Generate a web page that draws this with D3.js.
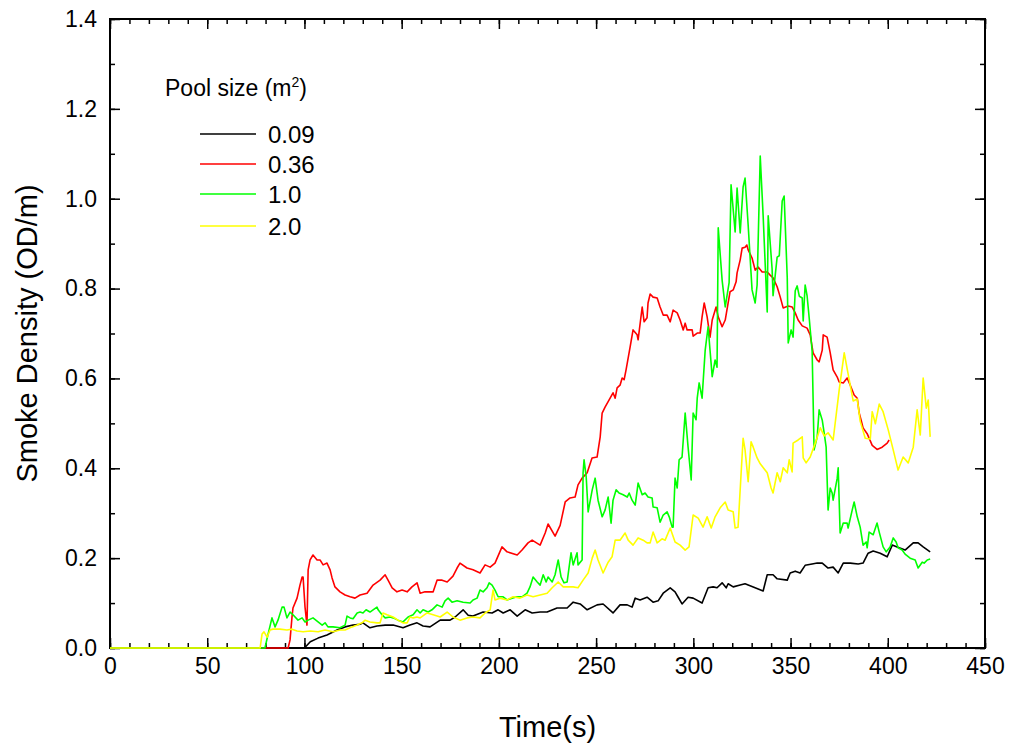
<!DOCTYPE html>
<html>
<head>
<meta charset="utf-8">
<script src="https://cdn.jsdelivr.net/npm/d3@7"></script>
<style>
  body { margin: 0; background: #fff; }
  text { font-family: "Liberation Sans", Arial, sans-serif; fill: #000; }
</style>
</head>
<body>
<script>
const W = 1013, H = 746;
const plotL = 110, plotR = 985, plotT = 19, plotB = 648;

// tick values
const xMajor = [0, 50, 100, 150, 200, 250, 300, 350, 400, 450];
const xMinor = d3.range(0, 451, 10);
const yMajor = [0, 0.2, 0.4, 0.6, 0.8, 1.0, 1.2, 1.4];
const yMinor = d3.range(0, 1.41, 0.1);

const seriesNames = ["0.09", "0.36", "1.0", "2.0"];
const seriesColors = ["#000000", "#ff0000", "#00ff00", "#ffff00"];

// [time s, OD/m]
const pool009 = [[0,0],[100,0],[103,0.014],[107,0.022],[111.6,0.029],[116.8,0.040],[120.9,0.047],[125,0.051],[128.6,0.053],[130.1,0.056],[133.7,0.045],[137.3,0.049],[141.5,0.051],[145.6,0.051],[150.7,0.045],[154.3,0.051],[157.9,0.056],[161,0.049],[164.6,0.047],[169.8,0.062],[174.9,0.062],[177.5,0.069],[181.6,0.085],[184.2,0.073],[186.7,0.071],[191.9,0.080],[196.5,0.078],[199.6,0.085],[202.2,0.078],[205.8,0.085],[209.4,0.071],[213.5,0.085],[217.1,0.078],[221.2,0.080],[224.8,0.080],[229.9,0.089],[235.1,0.089],[238.2,0.102],[241.8,0.098],[245.4,0.085],[250.5,0.096],[253.6,0.098],[258.7,0.078],[262.3,0.096],[266,0.096],[268.5,0.091],[270.1,0.111],[272.6,0.107],[276.2,0.113],[279.3,0.102],[281.9,0.105],[284.5,0.122],[288.1,0.134],[290.6,0.125],[292.2,0.113],[294.2,0.098],[297.3,0.113],[299.9,0.111],[304.5,0.100],[307.6,0.134],[310.2,0.136],[312.2,0.134],[314.8,0.145],[316.9,0.134],[317.9,0.143],[320.5,0.136],[324.1,0.140],[326.6,0.143],[330.8,0.136],[335.9,0.127],[338,0.163],[341,0.163],[343.1,0.154],[348.3,0.151],[349.8,0.167],[352.4,0.171],[354.9,0.167],[357.5,0.184],[361.1,0.187],[363.7,0.189],[366.3,0.189],[369.3,0.178],[371.9,0.180],[374.5,0.167],[377.1,0.189],[380.7,0.189],[384.8,0.187],[387.3,0.189],[389.9,0.211],[392.5,0.216],[396.1,0.211],[399.7,0.203],[402.3,0.229],[404.8,0.225],[408.9,0.218],[413.1,0.234],[415.6,0.234],[418.2,0.225],[421.8,0.214]];

const pool036 = [[0,0],[91.6,0],[92.6,0.018],[93.6,0.069],[94.1,0.089],[96.2,0.111],[97.7,0.140],[98.8,0.158],[99.3,0.158],[100.3,0.091],[101.3,0.051],[101.9,0.174],[102.9,0.196],[104.4,0.207],[106.5,0.196],[108,0.196],[109.6,0.185],[111.6,0.189],[113.2,0.174],[114.2,0.156],[115.7,0.136],[118.3,0.125],[120.9,0.118],[123.5,0.114],[126,0.111],[128.6,0.118],[132.2,0.122],[135.3,0.140],[138.9,0.151],[141.5,0.163],[143,0.151],[145.1,0.134],[147.6,0.125],[150.2,0.129],[152.8,0.125],[155.3,0.136],[157.9,0.145],[159.5,0.122],[162,0.125],[166.2,0.125],[168.2,0.151],[170.8,0.151],[173.4,0.147],[176.4,0.160],[178.5,0.178],[180,0.189],[183.6,0.178],[186.7,0.174],[190.3,0.167],[192.9,0.185],[195.5,0.180],[198,0.189],[201.6,0.225],[204.2,0.214],[209.4,0.207],[211.9,0.218],[215,0.234],[217.1,0.240],[221.2,0.229],[223.8,0.256],[225.3,0.276],[228.9,0.249],[231.5,0.273],[234.1,0.325],[236.6,0.334],[239.2,0.336],[240.7,0.363],[242.8,0.378],[245.4,0.390],[247.9,0.423],[250.5,0.425],[252.1,0.470],[253.1,0.523],[254.6,0.536],[257.2,0.556],[258.7,0.568],[259.8,0.556],[260.8,0.579],[262.3,0.585],[263.4,0.601],[264.4,0.597],[265.4,0.619],[267.5,0.670],[269,0.708],[271.1,0.697],[271.6,0.686],[273.7,0.759],[274.7,0.726],[276.2,0.735],[276.7,0.768],[277.8,0.788],[279.3,0.781],[281.4,0.779],[282.9,0.759],[284.5,0.741],[286.5,0.741],[288.1,0.726],[289.6,0.752],[291.7,0.746],[293.2,0.730],[294.8,0.708],[295.8,0.723],[296.8,0.708],[299.4,0.708],[299.9,0.694],[302,0.701],[303.5,0.701],[304.5,0.737],[305.6,0.768],[307.1,0.737],[308.6,0.692],[309.7,0.730],[311.7,0.759],[312.8,0.737],[314.8,0.715],[316.4,0.730],[317.9,0.768],[318.9,0.793],[320.5,0.797],[322,0.815],[322.5,0.835],[324.1,0.864],[325.1,0.890],[326.6,0.892],[327.5,0.897],[328.2,0.886],[330.2,0.868],[331.8,0.841],[333.3,0.848],[335.4,0.837],[338,0.837],[339.5,0.830],[341,0.824],[343.1,0.804],[344.7,0.781],[346.2,0.757],[348.8,0.761],[350.8,0.759],[352.4,0.746],[353.9,0.730],[356,0.717],[358.5,0.712],[360.1,0.697],[361.6,0.657],[363.7,0.641],[364.7,0.637],[366.3,0.663],[366.8,0.697],[368.8,0.692],[370.4,0.657],[371.9,0.619],[374,0.603],[375,0.592],[377.1,0.590],[379.1,0.601],[380.7,0.585],[382.7,0.563],[384.3,0.556],[385.3,0.523],[386.3,0.507],[387.3,0.490],[389.4,0.477],[392,0.451],[394.5,0.442],[397.1,0.447],[399.7,0.456],[400.7,0.463]];

const pool10 = [[0,0],[79.7,0],[81.3,0.031],[83.3,0.067],[84.9,0.047],[86.4,0.062],[88.5,0.091],[89.5,0.091],[91,0.067],[92.6,0.080],[94.1,0.074],[96.7,0.062],[98.8,0.067],[100.3,0.058],[101.9,0.062],[104.4,0.067],[107,0.058],[109.1,0.051],[110.6,0.056],[112.1,0.047],[114.7,0.047],[118.3,0.045],[120.9,0.051],[121.9,0.071],[123.5,0.067],[125,0.065],[127.1,0.078],[128.6,0.080],[130.1,0.078],[131.7,0.085],[133.7,0.080],[135.3,0.085],[137.3,0.091],[137.9,0.085],[139.9,0.074],[141.5,0.067],[144,0.069],[145.6,0.067],[148.1,0.062],[150.7,0.058],[153.3,0.069],[155.9,0.074],[157.9,0.085],[159.5,0.078],[161,0.085],[163.6,0.080],[165.6,0.085],[168.2,0.096],[170.8,0.091],[172.3,0.105],[173.9,0.111],[175.9,0.102],[178.5,0.105],[181.6,0.102],[185.2,0.100],[186.7,0.107],[188.8,0.111],[190.3,0.129],[191.9,0.125],[193.9,0.134],[195,0.145],[196.5,0.140],[198,0.129],[199.6,0.114],[202.2,0.114],[204.2,0.107],[206.8,0.111],[209.4,0.114],[211.9,0.114],[214.5,0.122],[216,0.136],[217.6,0.158],[219.7,0.147],[221.2,0.140],[222.8,0.163],[224.3,0.147],[225.3,0.158],[227.4,0.147],[228.9,0.163],[230.5,0.196],[232,0.158],[233.5,0.145],[235.1,0.147],[237.1,0.212],[238.2,0.185],[240.2,0.212],[240.7,0.185],[242.8,0.196],[243.3,0.390],[243.8,0.419],[244.9,0.381],[245.9,0.303],[248,0.352],[249.5,0.378],[251,0.329],[253.1,0.292],[254.6,0.307],[256.2,0.336],[257.7,0.278],[258.7,0.329],[260.3,0.352],[261.8,0.345],[263.9,0.341],[266,0.336],[267,0.345],[268.5,0.329],[270.1,0.318],[271.6,0.367],[273.7,0.341],[275.2,0.345],[276.7,0.336],[278.8,0.334],[279.3,0.314],[281.4,0.312],[282.9,0.280],[284.5,0.296],[286.5,0.303],[287.6,0.292],[289.1,0.269],[289.6,0.269],[290.6,0.378],[291.7,0.356],[292.7,0.419],[294.2,0.425],[295.8,0.523],[297.3,0.447],[298.9,0.374],[299.9,0.523],[301.4,0.508],[302,0.556],[303,0.590],[304.5,0.556],[306.1,0.663],[307.6,0.715],[309.7,0.604],[311.2,0.641],[312.2,0.625],[312.8,0.935],[314.8,0.819],[316.4,0.759],[318.4,0.813],[319.4,1.031],[321.5,0.926],[322.5,1.024],[324.1,0.924],[325.6,1.026],[326.6,1.046],[328.2,0.941],[330.2,0.797],[331.8,0.768],[332.8,0.808],[334.4,1.095],[335.9,0.962],[338,0.748],[338.5,0.962],[340.5,0.844],[341,0.784],[343.1,0.870],[344.2,0.873],[345.7,0.995],[346.7,1.006],[348.3,0.824],[348.8,0.679],[350.3,0.708],[351.3,0.692],[352.4,0.795],[353.4,0.806],[354.5,0.783],[356,0.779],[356.5,0.728],[357.5,0.808],[358.5,0.784],[359.6,0.734],[361.1,0.661],[361.6,0.553],[362.1,0.441],[363.7,0.470],[364.7,0.530],[366.3,0.507],[367.3,0.478],[368.3,0.447],[369.3,0.307],[370.4,0.356],[371.4,0.345],[371.9,0.329],[374,0.378],[374.5,0.401],[375.5,0.256],[377.1,0.278],[379.1,0.278],[379.6,0.267],[381.7,0.307],[382.7,0.325],[384.3,0.292],[385.8,0.269],[387.3,0.229],[388.9,0.236],[389.4,0.223],[390.4,0.258],[392.5,0.252],[394.5,0.278],[395.6,0.258],[397.6,0.225],[399.2,0.214],[401.2,0.225],[402.8,0.245],[404.3,0.236],[405.3,0.223],[407.4,0.218],[408.9,0.209],[411.5,0.200],[414.1,0.196],[415.6,0.178],[417.7,0.191],[418.7,0.189],[420.3,0.196],[421.8,0.198]];

const pool20 = [[0,0],[77.2,0],[78.2,0.031],[79.2,0.036],[80.8,0.024],[82.3,0.040],[83.8,0.042],[87.4,0.042],[91,0.040],[93.6,0.042],[96.2,0.038],[99.3,0.036],[102.9,0.038],[107,0.036],[110.6,0.040],[114.7,0.036],[118.3,0.040],[120.9,0.040],[124.5,0.047],[127.1,0.051],[129.6,0.056],[131.2,0.062],[133.7,0.058],[137.3,0.056],[138.9,0.056],[140.4,0.078],[142.5,0.074],[145.6,0.069],[148.1,0.062],[150.7,0.056],[152.8,0.056],[154.3,0.069],[155.9,0.067],[157.9,0.069],[159.5,0.067],[163.1,0.078],[166.2,0.074],[169.8,0.069],[173.4,0.080],[176.4,0.069],[180,0.062],[183.6,0.067],[186.7,0.069],[190.3,0.067],[192.9,0.078],[195.5,0.085],[197,0.129],[198,0.107],[200.6,0.111],[204.2,0.107],[207.3,0.114],[210.9,0.111],[214.5,0.118],[217.6,0.114],[221.2,0.118],[224.8,0.122],[227.4,0.134],[230.5,0.147],[233.1,0.136],[235.6,0.136],[238.2,0.136],[240.7,0.134],[243.3,0.151],[245.9,0.167],[248,0.200],[249.5,0.218],[251,0.196],[253.6,0.167],[256.2,0.191],[258.2,0.203],[259.8,0.240],[262.3,0.240],[264.9,0.256],[266.5,0.240],[269,0.229],[271.6,0.245],[274.2,0.240],[276.2,0.234],[277.8,0.234],[279.3,0.258],[281.4,0.234],[283.9,0.243],[285.5,0.240],[288.1,0.267],[290.6,0.236],[293.2,0.229],[295.8,0.218],[297.8,0.225],[299.9,0.296],[302.5,0.289],[305,0.269],[307.1,0.292],[309.2,0.267],[311.2,0.292],[313.8,0.312],[316.4,0.325],[317.9,0.307],[320.5,0.303],[321.5,0.267],[323,0.269],[325.6,0.467],[326.6,0.441],[328.2,0.370],[329.7,0.459],[330.8,0.447],[332.8,0.423],[334.4,0.410],[338,0.390],[340,0.356],[341,0.345],[343.1,0.390],[344.7,0.370],[346.2,0.401],[348.3,0.390],[349.3,0.419],[350.8,0.392],[351.3,0.456],[353.9,0.463],[356,0.470],[356.5,0.423],[358,0.412],[360.1,0.425],[362.7,0.456],[365.3,0.490],[367.3,0.472],[369.3,0.479],[371.9,0.463],[375,0.574],[377.6,0.657],[379.6,0.610],[382.2,0.550],[384.3,0.554],[385.8,0.505],[388.4,0.467],[391,0.465],[392,0.526],[393.6,0.499],[395.6,0.543],[397.6,0.526],[400.2,0.486],[402.8,0.441],[405.3,0.396],[407.9,0.425],[410.5,0.412],[413.1,0.447],[415.1,0.530],[416.7,0.474],[418.2,0.601],[419.8,0.534],[420.8,0.552],[421.8,0.470]];

const allSeries = [pool009, pool036, pool10, pool20];

const svg = d3.select("body").append("svg")
    .attr("width", W)
    .attr("height", H);

const x = d3.scaleLinear().domain([0, 450]).range([plotL, plotR]);
const y = d3.scaleLinear().domain([0, 1.4]).range([plotB, plotT]);

// frame first, the zero runs of the series sit on top of it
svg.append("rect")
    .attr("x", plotL).attr("y", plotT)
    .attr("width", plotR - plotL).attr("height", plotB - plotT)
    .attr("fill", "none").attr("stroke", "#000").attr("stroke-width", 2);

// inward ticks on all four sides
function ticks(axis, tx, ty) {
    const g = svg.append("g").attr("transform", `translate(${tx},${ty})`).call(axis);
    g.select(".domain").remove();
    g.selectAll(".tick line").attr("stroke", "#000").attr("stroke-width", 1.5);
    return g;
}

ticks(d3.axisBottom(x).tickValues(xMinor).tickSize(-5).tickFormat(""), 0, plotB);
ticks(d3.axisTop(x).tickValues(xMinor).tickSize(-5).tickFormat(""), 0, plotT);
ticks(d3.axisLeft(y).tickValues(yMinor).tickSize(-5).tickFormat(""), plotL, 0);
ticks(d3.axisRight(y).tickValues(yMinor).tickSize(-5).tickFormat(""), plotR, 0);

ticks(d3.axisBottom(x).tickValues(xMajor).tickSize(-10).tickPadding(10).tickFormat(d3.format("d")), 0, plotB);
ticks(d3.axisTop(x).tickValues(xMajor).tickSize(-10).tickFormat(""), 0, plotT);
ticks(d3.axisLeft(y).tickValues(yMajor).tickSize(-10).tickPadding(13).tickFormat(d3.format(".1f")), plotL, 0);
ticks(d3.axisRight(y).tickValues(yMajor).tickSize(-10).tickFormat(""), plotR, 0);

svg.selectAll(".tick text")
    .style("font-family", '"Liberation Sans", Arial, sans-serif')
    .style("font-size", "23px")
    .attr("fill", "#000");

// lines
const line = d3.line().x(d => x(d[0])).y(d => y(d[1]));
allSeries.forEach((s, i) => {
    svg.append("path")
        .datum(s)
        .attr("d", line)
        .attr("fill", "none")
        .attr("stroke", seriesColors[i])
        .attr("stroke-width", 1.6)
        .attr("stroke-linejoin", "round");
});

// axis titles
svg.append("text")
    .attr("x", (plotL + plotR) / 2).attr("y", 737)
    .attr("text-anchor", "middle")
    .style("font-size", "29px")
    .text("Time(s)");

svg.append("text")
    .attr("transform", `translate(37,${(plotT + plotB) / 2}) rotate(-90)`)
    .attr("text-anchor", "middle")
    .style("font-size", "29px")
    .text("Smoke Density (OD/m)");

// legend
const lt = svg.append("text").attr("x", 165).attr("y", 96).style("font-size", "23px");
lt.append("tspan").text("Pool size (m");
lt.append("tspan").attr("dy", -9).style("font-size", "14px").text("2");
lt.append("tspan").attr("dy", 9).text(")");

const legY = [134, 164, 194, 226];
seriesNames.forEach((n, i) => {
    svg.append("line")
        .attr("x1", 200).attr("x2", 256)
        .attr("y1", legY[i]).attr("y2", legY[i])
        .attr("stroke", seriesColors[i]).attr("stroke-width", 1.6);
    svg.append("text")
        .attr("x", 268).attr("y", legY[i] + 8.5)
        .style("font-size", "24px")
        .text(n);
});
</script>
</body>
</html>
